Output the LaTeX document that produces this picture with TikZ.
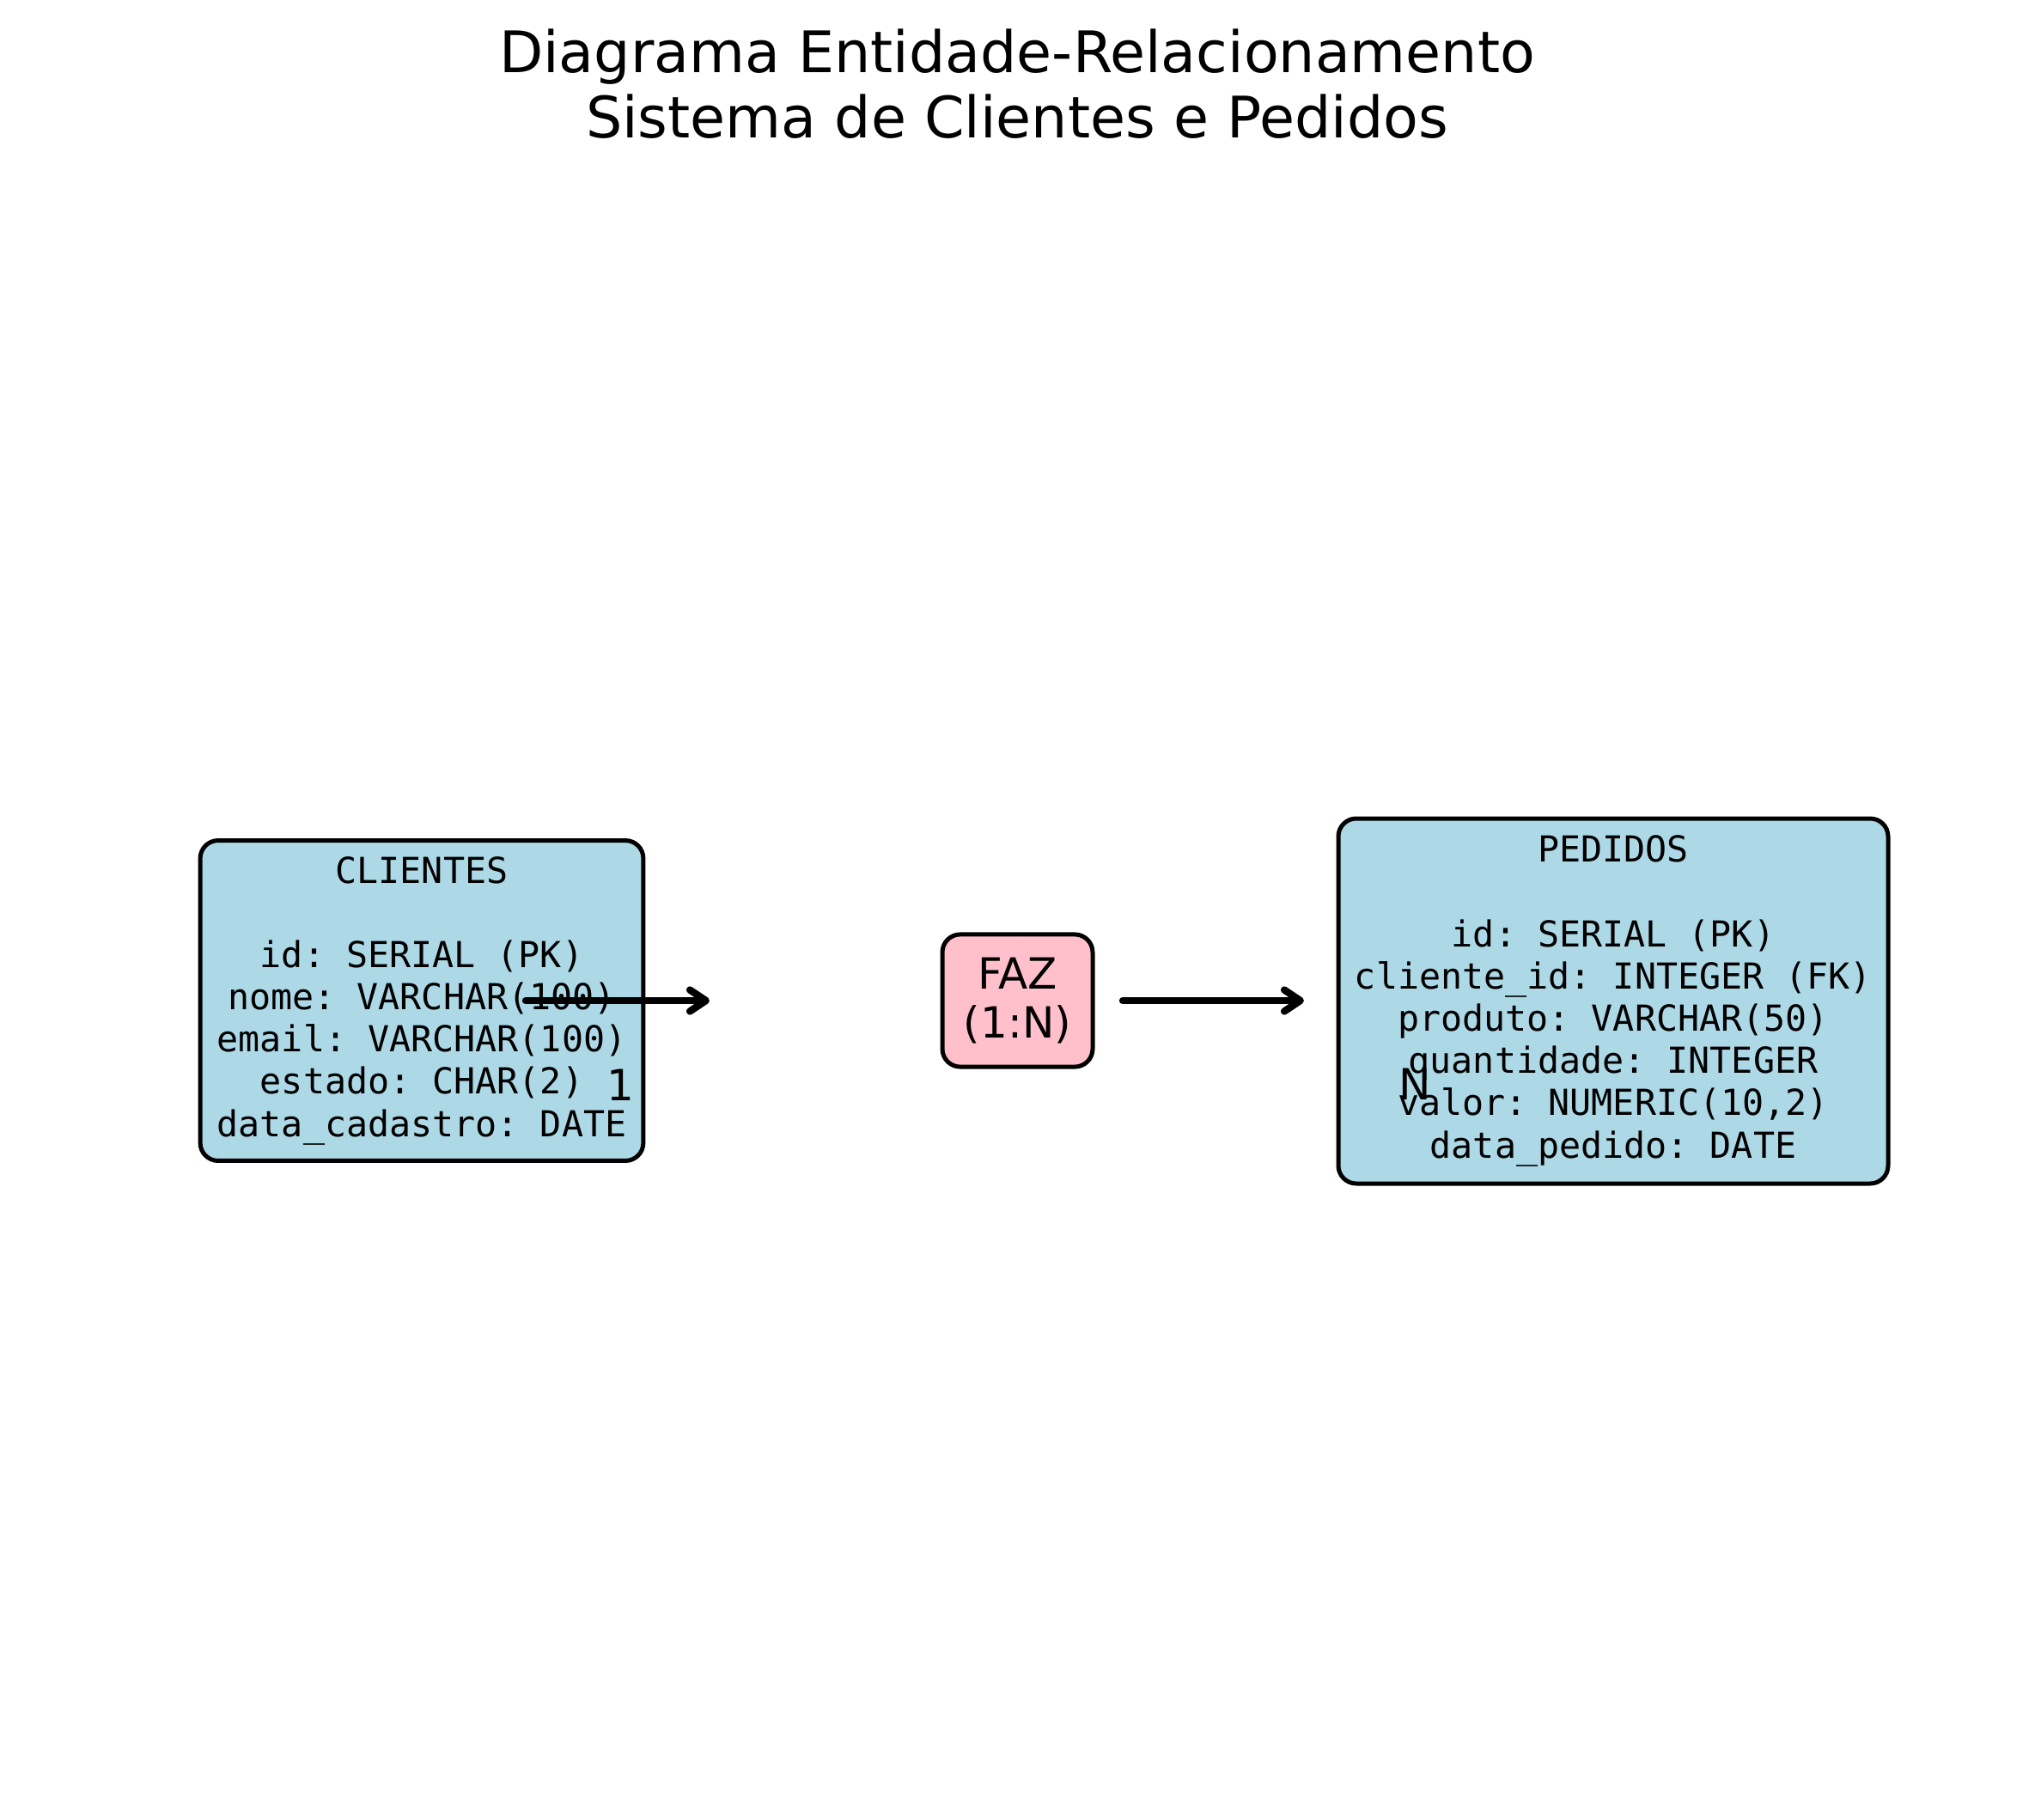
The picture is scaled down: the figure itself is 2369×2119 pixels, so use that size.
\documentclass[tikz,border=0pt]{standalone}
\usepackage{fontspec}
\setmainfont{DejaVu Sans}
\newfontfamily\monofont{DejaVu Sans Mono}
\usetikzlibrary{arrows.meta}
\definecolor{entblue}{HTML}{ADD8E6}
\definecolor{relpink}{HTML}{FFC0CB}
\frenchspacing
\begin{document}
\begin{tikzpicture}[x=0.24pt,y=-0.24pt,
  entity/.style={draw=black, line width=1.2pt, fill=entblue, rounded corners=5pt, align=center, inner sep=0pt, font=\monofont\frenchspacing\fontsize{10}{11.8}\selectfont},
  relbox/.style={draw=black, line width=1.2pt, fill=relpink, rounded corners=5pt, align=center, inner sep=0pt, font=\fontsize{12}{13.8}\selectfont},
  conn/.style={line width=2pt, line cap=round, -{Straight Barb[length=4.5pt,width=6pt,line cap=round,round]}},
  card/.style={font=\fontsize{12}{14}\selectfont, inner sep=0pt},
  titlestyle/.style={font=\fontsize{16}{18.2}\selectfont, align=center, inner sep=0pt}]
\fill[white] (0,0) rectangle (2369,2119);
\useasboundingbox (0,0) rectangle (2369,2119);

\node[titlestyle] (title) at (1184,98) {Diagrama Entidade-Relacionamento\\Sistema de Clientes e Pedidos};

\node[entity, minimum width=123.8pt, minimum height=89.5pt] (clientes) at (491,1165)
  {CLIENTES\\\mbox{}\\id: SERIAL (PK)\\nome: VARCHAR(100)\\email: VARCHAR(100)\\estado: CHAR(2)\\data\_cadastro: DATE};

\node[relbox, minimum width=42pt, minimum height=37pt] (faz) at (1184.5,1165) {FAZ\\(1:N)};

\node[entity, minimum width=153.6pt, minimum height=102pt] (pedidos) at (1878,1165.5)
  {PEDIDOS\\\mbox{}\\id: SERIAL (PK)\\cliente\_id: INTEGER (FK)\\produto: VARCHAR(50)\\quantidade: INTEGER\\valor: NUMERIC(10,2)\\data\_pedido: DATE};

\coordinate (a1s) at (612,1165);
\coordinate (a1e) at (826,1165);
\coordinate (a2s) at (1307,1165);
\coordinate (a2e) at (1518,1165);
\draw[conn] (a1s) -- (a1e);
\draw[conn] (a2s) -- (a2e);

\node[card] (one) at (722,1263) {1};
\node[card] (many) at (1647,1262) {N};
\end{tikzpicture}
\end{document}
